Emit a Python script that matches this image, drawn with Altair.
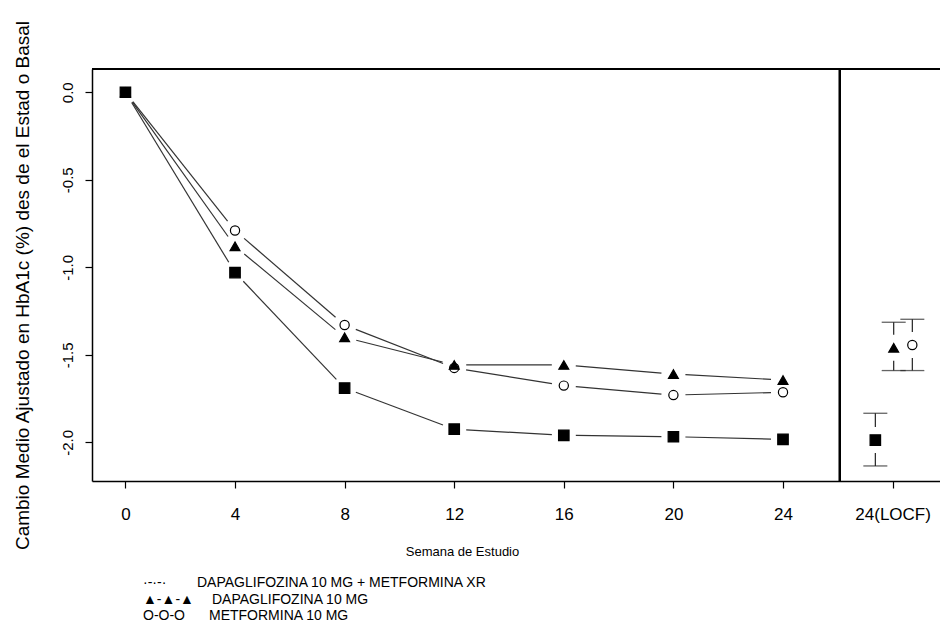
import math
import altair as alt
import pandas as pd

# ---------------- data ----------------
series_names = [
    "DAPAGLIFOZINA 10 MG + METFORMINA XR",
    "DAPAGLIFOZINA 10 MG",
    "METFORMINA 10 MG",
]
weeks = [0, 4, 8, 12, 16, 20, 24]
dapa_met = [0.0, -1.03, -1.69, -1.925, -1.96, -1.968, -1.983]
dapa = [0.0, -0.88, -1.40, -1.558, -1.558, -1.61, -1.644]
metf = [0.0, -0.79, -1.33, -1.575, -1.676, -1.73, -1.714]

locf_x = [27.37, 28.04, 28.72]
locf_mean = [-1.987, -1.46, -1.444]
locf_low = [-2.135, -1.59, -1.59]
locf_high = [-1.834, -1.314, -1.297]

x_ticks = [0, 4, 8, 12, 16, 20, 24, 28]
y_ticks = [0.0, -0.5, -1.0, -1.5, -2.0]
divider_week = 26.07

legend_symbols = ["·-·-·", "▲-▲-▲", "O-O-O"]
legend_labels = series_names

# ---------------- geometry of the plot area ----------------
W, H = 848, 412
X_DOM = [-1.22, 29.73]
Y_DOM = [-2.221, 0.133]
KX = W / (X_DOM[1] - X_DOM[0])   # px per week
KY = H / (Y_DOM[1] - Y_DOM[0])   # px per unit
GAP = 12                          # px left free round each marker (R type="b")
FONT = "Liberation Sans"

# ---------------- tables ----------------
rows = []
for name, vals in zip(series_names, [dapa_met, dapa, metf]):
    for w, v in zip(weeks, vals):
        rows.append({"serie": name, "semana": w, "valor": v})
df = pd.DataFrame(rows)

# connecting segments shortened at both ends, derived from the data
segs = []
for name, vals in zip(series_names, [dapa_met, dapa, metf]):
    for i in range(len(weeks) - 1):
        w0, w1, v0, v1 = weeks[i], weeks[i + 1], vals[i], vals[i + 1]
        L = math.hypot((w1 - w0) * KX, (v1 - v0) * KY)
        t = GAP / L
        segs.append({
            "serie": name,
            "x": w0 + t * (w1 - w0), "x2": w1 - t * (w1 - w0),
            "y": v0 + t * (v1 - v0), "y2": v1 - t * (v1 - v0),
        })
seg_df = pd.DataFrame(segs)

locf = pd.DataFrame({
    "serie": series_names,
    "semana": locf_x,
    "valor": locf_mean,
    "low": locf_low,
    "high": locf_high,
})
locf["up0"] = locf["valor"] + (GAP + 1) / KY
locf["dn0"] = locf["valor"] - (GAP + 1) / KY

points = pd.concat([df, locf[["serie", "semana", "valor"]]], ignore_index=True)
# draw circles first, squares last (squares on top, as in the reference)
points = points.iloc[::-1].reset_index(drop=True)

xscale = alt.Scale(domain=X_DOM, nice=False, zero=False)
yscale = alt.Scale(domain=Y_DOM, nice=False, zero=False)

x_enc = alt.X(
    "x:Q", scale=xscale,
    axis=alt.Axis(
        values=x_ticks, grid=False, tickSize=7, labelFontSize=17,
        labelPadding=18, labelExpr="datum.value == 28 ? '24(LOCF)' : datum.label",
        title="Semana de Estudio", titleFontSize=13, titleFontWeight="normal",
        titleX=370, titleY=74, titleAlign="center", titleBaseline="alphabetic",
        domainWidth=1.5,
    ),
)
y_enc = alt.Y(
    "y:Q", scale=yscale,
    axis=alt.Axis(
        values=y_ticks, grid=False, tickSize=7, labelFontSize=15,
        labelAngle=270, labelAlign="center", labelBaseline="bottom", labelPadding=10,
        labelExpr="replace(format(datum.value, '.1f'), '\u2212', '-')",
        title="Cambio Medio Ajustado en HbA1c (%) des de el Estad o Basal",
        titleFontSize=19, titleFontWeight="normal", titleAngle=270,
        titleX=-64, titleY=216, titleAlign="center", titleBaseline="alphabetic",
        domainWidth=1.5,
    ),
)

lines = alt.Chart(seg_df).mark_rule(color="#333333", strokeWidth=1.2).encode(
    x=x_enc, x2="x2:Q", y=y_enc, y2="y2:Q"
)

err_hi = alt.Chart(locf).mark_rule(color="#222222", strokeWidth=1.2).encode(
    x="semana:Q", y="up0:Q", y2="high:Q"
)
err_lo = alt.Chart(locf).mark_rule(color="#222222", strokeWidth=1.2).encode(
    x="semana:Q", y="dn0:Q", y2="low:Q"
)
cap_lo = alt.Chart(locf).mark_tick(orient="horizontal", color="#222222", size=24, thickness=1.3).encode(
    x="semana:Q", y="low:Q"
)
cap_hi = alt.Chart(locf).mark_tick(orient="horizontal", color="#222222", size=24, thickness=1.3).encode(
    x="semana:Q", y="high:Q"
)

markers = alt.Chart(points).mark_point(opacity=1, stroke="black", strokeWidth=1.2).encode(
    x="semana:Q",
    y="valor:Q",
    shape=alt.Shape("serie:N", scale=alt.Scale(domain=series_names,
                    range=["square", "triangle-up", "circle"]), legend=None),
    fill=alt.Fill("serie:N", scale=alt.Scale(domain=series_names,
                  range=["black", "black", "white"]), legend=None),
    size=alt.Size("serie:N", scale=alt.Scale(domain=series_names,
                  range=[110, 85, 80]), legend=None),
)

top_frame = alt.Chart(df).mark_rule(color="black", strokeWidth=1.5).encode(
    x=alt.value(0), x2=alt.value(W), y=alt.value(0)
)
divider = alt.Chart(df).mark_rule(color="black", strokeWidth=1.5).encode(
    x=alt.datum(divider_week), y=alt.value(0), y2=alt.value(H)
)

leg = pd.DataFrame({"sym": legend_symbols, "lab": legend_labels, "row": [0, 1, 2]})
leg_y = [514, 531, 547]
leg_lab_x = [105, 120, 117]
leg_layers = []
for i in range(3):
    leg_layers.append(
        alt.Chart(leg).transform_filter(alt.datum.row == i).mark_text(
            align="left", baseline="middle", font=FONT, fontSize=14, color="black"
        ).encode(x=alt.value(51), y=alt.value(leg_y[i]), text="sym:N")
    )
    leg_layers.append(
        alt.Chart(leg).transform_filter(alt.datum.row == i).mark_text(
            align="left", baseline="middle", font=FONT, fontSize=14, color="black"
        ).encode(x=alt.value(leg_lab_x[i]), y=alt.value(leg_y[i]), text="lab:N")
    )

chart = alt.layer(
    lines, err_hi, err_lo, cap_lo, cap_hi, markers, top_frame, divider, *leg_layers
).properties(
    width=W, height=H,
    autosize=alt.AutoSizeParams(type="none"),
    padding={"left": 84, "top": 61, "right": 0, "bottom": 141},
    background="white",
).configure_view(stroke=None).configure_axis(
    domainColor="black", tickColor="black", labelColor="black", titleColor="black",
    labelFont=FONT, titleFont=FONT, tickWidth=1.2,
)

chart.save("out.html", embed_options={"renderer": "svg", "actions": False})
